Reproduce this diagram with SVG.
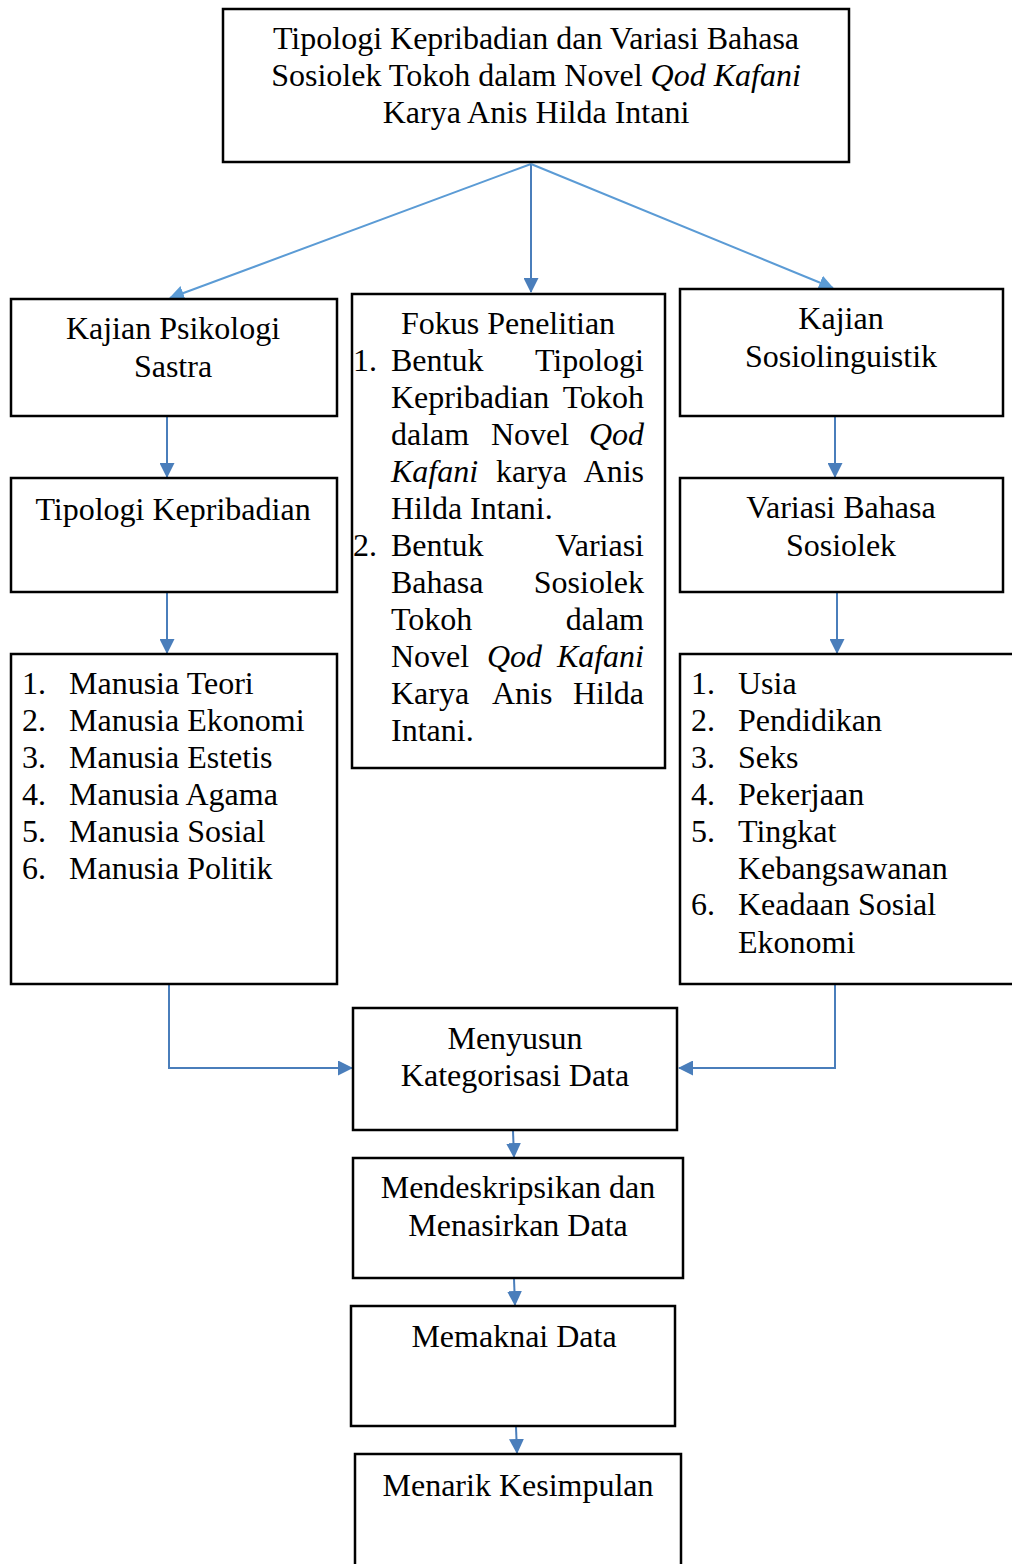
<svg xmlns="http://www.w3.org/2000/svg" width="1012" height="1564" viewBox="0 0 1012 1564">
<style>
.box{fill:#fff;stroke:#000;stroke-width:2.5}
.t{font-family:"Liberation Serif","Times New Roman",serif;font-size:32px;fill:#000}
.c{text-anchor:middle}
.e{text-anchor:end}
.i{font-style:italic}
.ln{fill:none;stroke:#4A7EBB;stroke-width:2}
.lnl{fill:none;stroke:#5B9BD5;stroke-width:2}
</style>
<defs>
<marker id="ah" markerUnits="userSpaceOnUse" markerWidth="15" markerHeight="15" viewBox="0 0 15 15" refX="14" refY="7.5" orient="auto">
<path d="M0,0 L15,7.5 L0,15 z" fill="#4A7EBB"/>
</marker>
<marker id="ahl" markerUnits="userSpaceOnUse" markerWidth="15" markerHeight="15" viewBox="0 0 15 15" refX="14" refY="7.5" orient="auto">
<path d="M0,0 L15,7.5 L0,15 z" fill="#5B9BD5"/>
</marker>
</defs>
<rect width="1012" height="1564" fill="#fff"/>

<g id="connectors">
<line class="lnl" x1="531" y1="164" x2="170" y2="298" marker-end="url(#ahl)"/>
<line class="ln" x1="531" y1="164" x2="531" y2="292" marker-end="url(#ah)"/>
<line class="lnl" x1="531" y1="164" x2="833" y2="288" marker-end="url(#ahl)"/>
<line class="ln" x1="167" y1="417" x2="167" y2="477" marker-end="url(#ah)"/>
<line class="ln" x1="167" y1="593" x2="167" y2="653" marker-end="url(#ah)"/>
<line class="ln" x1="835" y1="417" x2="835" y2="477" marker-end="url(#ah)"/>
<line class="ln" x1="837" y1="593" x2="837" y2="653" marker-end="url(#ah)"/>
<polyline class="ln" points="169,985 169,1068 352,1068" marker-end="url(#ah)"/>
<polyline class="ln" points="835,985 835,1068 679,1068" marker-end="url(#ah)"/>
<line class="ln" x1="513" y1="1131" x2="514" y2="1157" marker-end="url(#ah)"/>
<line class="ln" x1="514" y1="1279" x2="515" y2="1305" marker-end="url(#ah)"/>
<line class="ln" x1="516" y1="1427" x2="517" y2="1453" marker-end="url(#ah)"/>
</g>

<g id="n-title">
<rect class="box" x="223" y="9" width="626" height="153"/>
<text class="t c" x="536" y="49">Tipologi Kepribadian dan Variasi Bahasa</text>
<text class="t c" x="536" y="86">Sosiolek Tokoh dalam Novel <tspan class="i">Qod Kafani</tspan></text>
<text class="t c" x="536" y="123">Karya Anis Hilda Intani</text>
</g>

<g id="n-psikologi">
<rect class="box" x="11" y="299" width="326" height="117"/>
<text class="t c" x="173" y="339">Kajian Psikologi</text>
<text class="t c" x="173" y="377">Sastra</text>
</g>

<g id="n-tipologi">
<rect class="box" x="11" y="478" width="326" height="114"/>
<text class="t c" x="173" y="520">Tipologi Kepribadian</text>
</g>

<g id="n-manusia">
<rect class="box" x="11" y="654" width="326" height="330"/>
<text class="t" x="22" y="694">1.</text><text class="t" x="69" y="694">Manusia Teori</text>
<text class="t" x="22" y="731">2.</text><text class="t" x="69" y="731">Manusia Ekonomi</text>
<text class="t" x="22" y="768">3.</text><text class="t" x="69" y="768">Manusia Estetis</text>
<text class="t" x="22" y="805">4.</text><text class="t" x="69" y="805">Manusia Agama</text>
<text class="t" x="22" y="842">5.</text><text class="t" x="69" y="842">Manusia Sosial</text>
<text class="t" x="22" y="879">6.</text><text class="t" x="69" y="879">Manusia Politik</text>
</g>

<g id="n-fokus">
<rect class="box" x="352" y="294" width="313" height="474"/>
<text class="t c" x="508" y="334">Fokus Penelitian</text>
<text class="t" x="353" y="371">1.</text>
<text class="t" x="391" y="371">Bentuk</text><text class="t e" x="644" y="371">Tipologi</text>
<text class="t" x="391" y="408">Kepribadian</text><text class="t e" x="644" y="408">Tokoh</text>
<text class="t" x="391" y="445">dalam</text><text class="t" x="491" y="445">Novel</text><text class="t e i" x="644" y="445">Qod</text>
<text class="t i" x="391" y="482">Kafani</text><text class="t" x="496" y="482">karya</text><text class="t e" x="644" y="482">Anis</text>
<text class="t" x="391" y="519">Hilda Intani.</text>
<text class="t" x="353" y="556">2.</text>
<text class="t" x="391" y="556">Bentuk</text><text class="t e" x="644" y="556">Variasi</text>
<text class="t" x="391" y="593">Bahasa</text><text class="t e" x="644" y="593">Sosiolek</text>
<text class="t" x="391" y="630">Tokoh</text><text class="t e" x="644" y="630">dalam</text>
<text class="t" x="391" y="667">Novel</text><text class="t i" x="487" y="667">Qod</text><text class="t e i" x="644" y="667">Kafani</text>
<text class="t" x="391" y="704">Karya</text><text class="t" x="492" y="704">Anis</text><text class="t e" x="644" y="704">Hilda</text>
<text class="t" x="391" y="741">Intani.</text>
</g>

<g id="n-sosiolinguistik">
<rect class="box" x="680" y="289" width="323" height="127"/>
<text class="t c" x="841" y="329">Kajian</text>
<text class="t c" x="841" y="367">Sosiolinguistik</text>
</g>

<g id="n-variasi">
<rect class="box" x="680" y="478" width="323" height="114"/>
<text class="t c" x="841" y="518">Variasi Bahasa</text>
<text class="t c" x="841" y="556">Sosiolek</text>
</g>

<g id="n-faktor">
<rect class="box" x="680" y="654" width="345" height="330"/>
<text class="t" x="691" y="694">1.</text><text class="t" x="738" y="694">Usia</text>
<text class="t" x="691" y="731">2.</text><text class="t" x="738" y="731">Pendidikan</text>
<text class="t" x="691" y="768">3.</text><text class="t" x="738" y="768">Seks</text>
<text class="t" x="691" y="805">4.</text><text class="t" x="738" y="805">Pekerjaan</text>
<text class="t" x="691" y="842">5.</text><text class="t" x="738" y="842">Tingkat</text>
<text class="t" x="738" y="879">Kebangsawanan</text>
<text class="t" x="691" y="915">6.</text><text class="t" x="738" y="915">Keadaan Sosial</text>
<text class="t" x="738" y="953">Ekonomi</text>
</g>

<g id="n-menyusun">
<rect class="box" x="353" y="1008" width="324" height="122"/>
<text class="t c" x="515" y="1049">Menyusun</text>
<text class="t c" x="515" y="1086">Kategorisasi Data</text>
</g>

<g id="n-mendeskripsikan">
<rect class="box" x="353" y="1158" width="330" height="120"/>
<text class="t c" x="518" y="1198">Mendeskripsikan dan</text>
<text class="t c" x="518" y="1236">Menasirkan Data</text>
</g>

<g id="n-memaknai">
<rect class="box" x="351" y="1306" width="324" height="120"/>
<text class="t c" x="514" y="1347">Memaknai Data</text>
</g>

<g id="n-menarik">
<rect class="box" x="355" y="1454" width="326" height="120"/>
<text class="t c" x="518" y="1496">Menarik Kesimpulan</text>
</g>
</svg>
